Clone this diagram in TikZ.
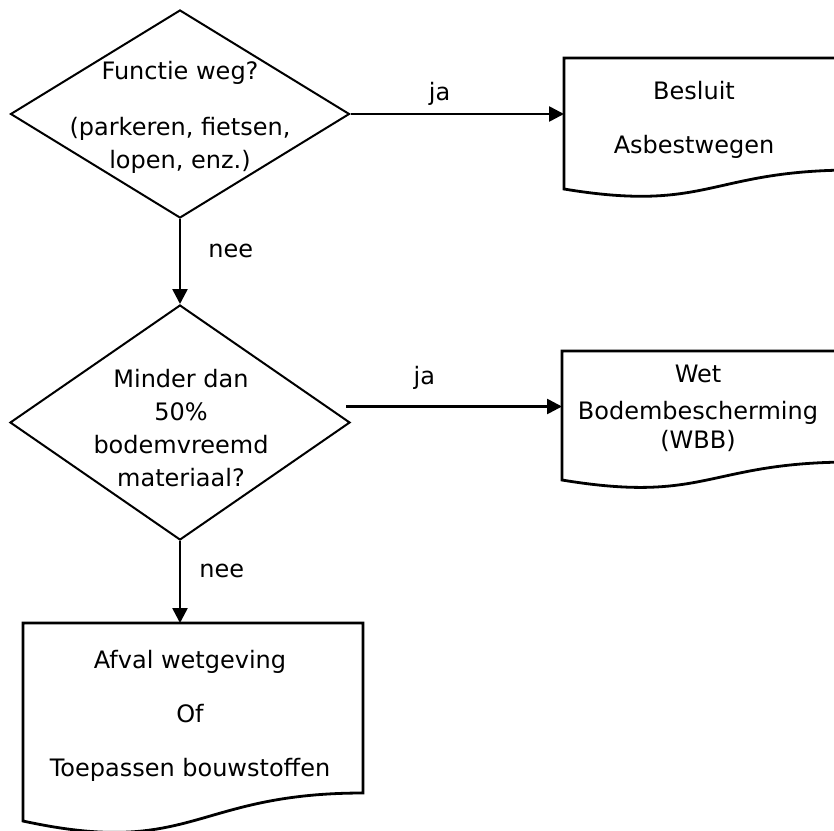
\documentclass[tikz,border=0pt]{standalone}
\usepackage{fontspec}
\setmainfont{DejaVu Sans}
\usetikzlibrary{shapes.geometric,arrows.meta,calc}

\tikzset{
  decision/.style={diamond,draw,line width=1pt,inner sep=0pt},
  docbox/.style={rectangle,inner sep=0pt,outer sep=0pt},
  docline/.style={line width=1.4pt,line join=miter},
  txt/.style={align=center,inner sep=0pt,font=\fontsize{12}{16.5}\selectfont},
  flow/.style={line width=1.3pt,-{Triangle[length=7.5pt,width=7.5pt]}},
  lbl/.style={inner sep=0pt,font=\fontsize{12}{14}\selectfont}
}

\begin{document}
\begin{tikzpicture}[x=0.5pt,y=-0.5pt]
\useasboundingbox (0,0) rectangle (834,830);
\clip (0,0) rectangle (834,830);
% vragen
\node[decision,minimum width=169.5pt,minimum height=104pt] (q1) at (180,114) {};
\node[txt] (q1t) at (180,117.5) {Functie weg?\\[11.5pt](parkeren, fietsen,\\lopen, enz.)};
\node[decision,minimum width=170pt,minimum height=117.5pt] (q2) at (180,422.5) {};
\node[txt] (q2t) at (181,428) {Minder dan\\50\%\\bodemvreemd\\materiaal?};
% documenten
\node[docbox,minimum width=145pt,minimum height=56pt] (d1) at (709,114) {};
\node[txt] (d1t) at (694,119.5) {Besluit\\[10.5pt]Asbestwegen};
\node[docbox,minimum width=145pt,minimum height=55.5pt] (d2) at (707,406.5) {};
\node[txt] (d2t) at (698,408.5) {Wet\\[2pt]Bodembescherming\\[-2pt](WBB)};
\node[docbox,minimum width=170pt,minimum height=85pt] (d3) at (193,708) {};
\node[txt] (d3t) at (190,716) {Afval wetgeving\\[10.5pt]Of\\[10.5pt]Toepassen bouwstoffen};
\foreach \n/\a/\c in {d1/19/43,d2/18/42,d3/28/65}
  \draw[docline] (\n.south east) -- (\n.north east) -- (\n.north west)
    -- ($(\n.south west)+(0,\a)$) .. controls ($(\n.south)+(0,\c)$) and (\n.south) .. (\n.south east) -- cycle;
% pijlen
\draw[flow] (q1.east) -- node[lbl,pos=0.417,above=3.5pt] (ja1) {ja} (d1.west);
\draw[flow] (q1.south) -- node[lbl,pos=0.37,right=13.5pt] (nee1) {nee} (q2.north);
\draw[flow] ($(q2.east |- d2.west)+(-5,0)$) -- node[lbl,pos=0.363,above=8pt] (ja2) {ja} (d2.west);
\draw[flow] (q2.south) -- node[lbl,pos=0.37,right=9pt] (nee2) {nee} (q2.south |- d3.north);
\end{tikzpicture}
\end{document}
